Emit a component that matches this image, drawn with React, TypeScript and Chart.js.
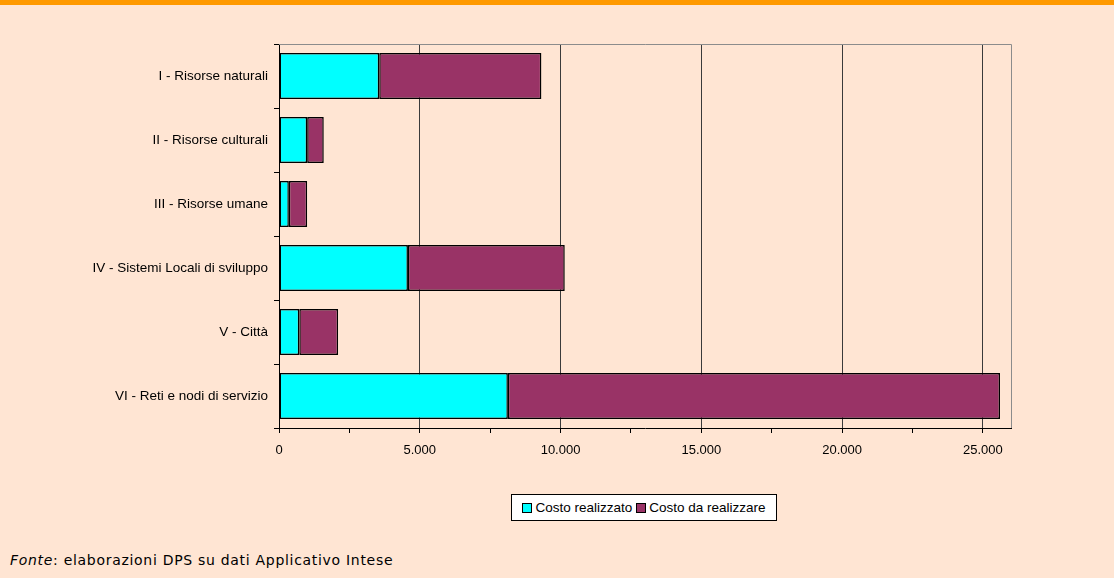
import React, { useEffect, useRef } from "react";
import { Chart, registerables } from "chart.js";

Chart.register(...registerables);

const categories = [
  "I - Risorse naturali",
  "II - Risorse culturali",
  "III - Risorse umane",
  "IV - Sistemi Locali di sviluppo",
  "V - Città",
  "VI - Reti e nodi di servizio",
];
const costoRealizzato = [3560, 1000, 350, 4580, 720, 8130];
const costoDaRealizzare = [5760, 590, 650, 5570, 1380, 17480];
const seriesNames = ["Costo realizzato", "Costo da realizzare"];
const seriesColors = ["#00FFFF", "#993366"];
const xMax = 26000;
const lastTick = 25000;
const majorStep = 5000;
const minorStep = 2500;
const sourceNote = ": elaborazioni DPS su dati Applicativo Intese";

const fmt = (v: number) => String(v).replace(/\B(?=(\d{3})+(?!\d))/g, ".");

const FONT = "'Liberation Sans', Arial, sans-serif";

export default function App() {
  const ref = useRef<HTMLCanvasElement>(null);

  useEffect(() => {
    if (!ref.current) return;
    const borderPlugin = {
      id: "plotBorder",
      afterDatasetsDraw(chart: any) {
        const { ctx, chartArea } = chart;
        ctx.save();
        ctx.strokeStyle = "#8c8c8c";
        ctx.lineWidth = 1;
        ctx.beginPath();
        ctx.moveTo(chartArea.left, chartArea.top + 0.5);
        ctx.lineTo(chartArea.right + 0.5, chartArea.top + 0.5);
        ctx.lineTo(chartArea.right + 0.5, chartArea.bottom);
        ctx.stroke();
        ctx.restore();
      },
    };
    const chart = new Chart(ref.current, {
      type: "bar",
      data: {
        labels: categories,
        datasets: [
          {
            label: seriesNames[0],
            data: costoRealizzato,
            backgroundColor: seriesColors[0],
            borderColor: "#000",
            borderWidth: 1.5,
            borderSkipped: false,
          },
          {
            label: seriesNames[1],
            data: costoDaRealizzare,
            backgroundColor: seriesColors[1],
            borderColor: "#000",
            borderWidth: 1.5,
            borderSkipped: false,
          },
        ],
      },
      options: {
        indexAxis: "y",
        responsive: false,
        animation: false,
        layout: { padding: { top: 44, right: 103, left: 0, bottom: 0 } },
        plugins: { legend: { display: false }, tooltip: { enabled: false } },
        datasets: { bar: { categoryPercentage: 1, barPercentage: 0.72 } },
        scales: {
          x: {
            stacked: true,
            min: 0,
            max: xMax,
            afterBuildTicks: (scale: any) => {
              const t: any[] = [];
              for (let v = 0; v <= lastTick; v += minorStep) t.push({ value: v });
              scale.ticks = t;
            },
            afterFit: (scale: any) => {
              scale.height = 42;
            },
            border: { color: "#000", width: 1 },
            grid: {
              color: (c: any) =>
                c.tick && c.tick.value % majorStep === 0 && c.tick.value > 0 ? "#3a3a3a" : "rgba(0,0,0,0)",
              tickColor: "#000",
              tickLength: 5,
              lineWidth: 1,
            },
            ticks: {
              autoSkip: false,
              maxRotation: 0,
              padding: 10,
              color: "#000",
              font: { family: FONT, size: 13 },
              callback: (v: any) => (Number(v) % majorStep === 0 ? fmt(Number(v)) : ""),
            },
          },
          y: {
            stacked: true,
            afterFit: (scale: any) => {
              scale.width = 279;
            },
            border: { color: "#000", width: 1 },
            grid: {
              drawOnChartArea: false,
              offset: true,
              tickColor: "#000",
              tickLength: 5,
            },
            ticks: {
              padding: 6,
              color: "#000",
              font: { family: FONT, size: 13.5 },
            },
          },
        },
      },
      plugins: [borderPlugin],
    } as any);
    return () => chart.destroy();
  }, []);

  const swatch = (color: string) => (
    <span
      style={{
        display: "inline-block",
        flexShrink: 0,
        width: 8,
        height: 8,
        background: color,
        border: "1px solid #000",
        marginRight: 3,
      }}
    />
  );

  return (
    <div
      style={{
        position: "fixed",
        left: 0,
        top: 0,
        width: 1114,
        height: 578,
        background: "#FFE5D3",
        overflow: "hidden",
      }}
    >
      <div style={{ position: "absolute", left: 0, top: 0, width: 1114, height: 5, background: "#FF9900" }} />
      <canvas ref={ref} width={1114} height={470} style={{ position: "absolute", left: 0, top: 0 }} />
      <div
        style={{
          position: "absolute",
          left: 511,
          top: 494,
          width: 264,
          height: 25,
          background: "#fff",
          border: "1px solid #000",
          display: "flex",
          alignItems: "center",
          justifyContent: "center",
          fontFamily: FONT,
          fontSize: 13.5,
          color: "#000",
          whiteSpace: "nowrap",
        }}
      >
        {swatch(seriesColors[0])}
        <span style={{ marginRight: 4 }}>{seriesNames[0]}</span>
        {swatch(seriesColors[1])}
        <span>{seriesNames[1]}</span>
      </div>
      <div
        style={{
          position: "absolute",
          left: 10,
          top: 552,
          fontFamily: "'DejaVu Sans', sans-serif",
          fontSize: 14,
          letterSpacing: 0.7,
          color: "#000",
          whiteSpace: "nowrap",
        }}
      >
        <i>Fonte</i>
        {sourceNote}
      </div>
    </div>
  );
}
